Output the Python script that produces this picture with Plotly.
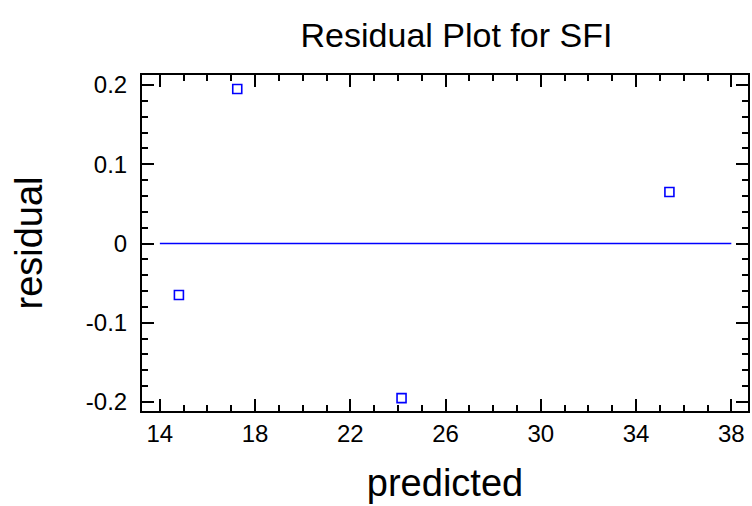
import plotly.graph_objects as go

predicted = [14.8, 17.25, 24.15, 35.4]
residual = [-0.065, 0.195, -0.195, 0.065]
zero_x = [14, 38]
zero_y = [0, 0]
x_ticks = [14, 18, 22, 26, 30, 34, 38]
y_ticks = [-0.2, -0.1, 0, 0.1, 0.2]
y_tick_labels = ["-0.2", "-0.1", "0", "0.1", "0.2"]

FONT = "Liberation Sans, Arial, sans-serif"

fig = go.Figure()
fig.add_trace(go.Scatter(x=zero_x, y=zero_y, mode="lines",
                         line=dict(color="#0000ff", width=1.5), hoverinfo="skip"))
fig.add_trace(go.Scatter(x=predicted, y=residual, mode="markers",
                         marker=dict(symbol="square-open", size=9, color="#0000ff",
                                     line=dict(width=1.6, color="#0000ff"))))

axis_common = dict(
    showgrid=False, zeroline=False, showline=True, linecolor="black", linewidth=2,
    mirror="allticks", ticks="inside", tickwidth=2, tickcolor="black",
    tickfont=dict(family=FONT, size=24, color="black"),
)

fig.update_xaxes(range=[13.25, 38.7], tickvals=x_ticks, ticklen=12,
                 minor=dict(dtick=1, ticks="inside", ticklen=6, tickwidth=2, tickcolor="black"),
                 title=dict(text="predicted", standoff=24,
                            font=dict(family=FONT, size=38, color="black")),
                 **axis_common)
fig.update_yaxes(range=[-0.2113, 0.2126], tickvals=y_ticks, ticktext=y_tick_labels, ticklen=12,
                 ticklabelstandoff=8,
                 minor=dict(dtick=0.02, tick0=0, ticks="inside", ticklen=6, tickwidth=2, tickcolor="black"),
                 title=dict(text="residual", standoff=32,
                            font=dict(family=FONT, size=38, color="black")),
                 **axis_common)

fig.update_layout(
    width=752, height=506,
    margin=dict(l=142, r=2, t=75, b=95),
    paper_bgcolor="white", plot_bgcolor="white",
    showlegend=False,
    title=dict(text="Residual Plot for SFI", x=0.607, xanchor="center", y=0.93, yanchor="middle",
               font=dict(family=FONT, size=34, color="black")),
)

fig.write_html("out.html")
